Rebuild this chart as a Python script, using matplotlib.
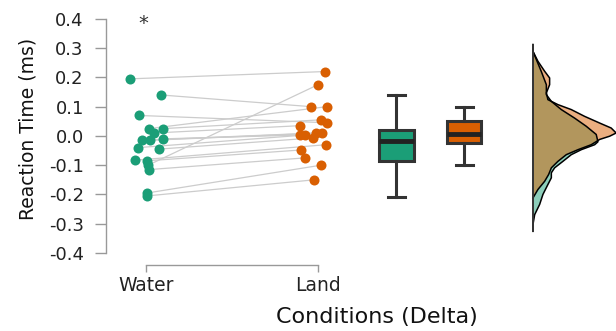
import numpy as np
import matplotlib
matplotlib.use("Agg")
import matplotlib.pyplot as plt

# ------------------------------
# Data
# ------------------------------
categories = ["Water", "Land"]
water = [0.195, 0.14, 0.07, 0.025, -0.10, 0.025, 0.01, -0.015, -0.01, -0.015,
         -0.04, -0.045, -0.083, -0.085, -0.115, -0.195, -0.205]
land = [0.22, 0.10, 0.045, 0.10, 0.175, 0.055, 0.035, 0.01, 0.003, 0.01,
        0.003, -0.007, -0.03, -0.048, -0.075, -0.10, -0.15]
water_jit = [-0.093, 0.087, -0.041, 0.017, 0.012, 0.099, 0.047, 0.023, 0.099, -0.023,
             -0.047, 0.076, -0.064, 0.006, 0.017, 0.006, 0.006]
land_jit = [0.041, -0.041, 0.052, 0.052, 0.0, 0.017, -0.105, 0.023, -0.105, -0.012,
            -0.076, -0.029, 0.047, -0.099, -0.076, 0.017, -0.023]

# box summaries: whislo, q1, median, q3, whishi
water_box = [-0.208, -0.085, -0.017, 0.02, 0.14]
land_box = [-0.10, -0.025, 0.007, 0.05, 0.10]

# half-violin density profiles (value, relative width)
water_kde_y = [0.312, 0.289, 0.221, 0.175, 0.141, 0.118, 0.090, 0.061, 0.033, 0.005,
               -0.020, -0.030, -0.047, -0.064, -0.087, -0.109, -0.126, -0.143, -0.166,
               -0.200, -0.234, -0.269, -0.303, -0.326]
water_kde_w = [0.0, 0.0, 0.048, 0.078, 0.078, 0.107, 0.165, 0.242, 0.310, 0.368,
               0.378, 0.359, 0.281, 0.223, 0.174, 0.126, 0.107, 0.107, 0.087,
               0.058, 0.039, 0.010, 0.0, 0.0]
land_kde_y = [0.312, 0.289, 0.255, 0.221, 0.198, 0.175, 0.147, 0.124, 0.107, 0.090,
              0.067, 0.044, 0.027, 0.010, -0.001, -0.012, -0.030, -0.047, -0.064,
              -0.087, -0.109, -0.132, -0.155, -0.183, -0.212]
land_kde_w = [0.0, 0.0, 0.029, 0.068, 0.097, 0.097, 0.078, 0.087, 0.145, 0.223,
              0.300, 0.388, 0.455, 0.484, 0.446, 0.388, 0.339, 0.262, 0.194,
              0.145, 0.107, 0.091, 0.068, 0.029, 0.0]

yticks = [-0.4, -0.3, -0.2, -0.1, 0.0, 0.1, 0.2, 0.3, 0.4]

green = "#1b9e77"
orange = "#d95f02"

plt.rcParams['font.family'] = ['DejaVu Sans']

fig = plt.figure(figsize=(6.16, 3.31), dpi=100)
ax = fig.add_axes([106/616, 66/331, 510/616, 252/331])

# ------------------------------
# Paired lines + points
# ------------------------------
wx = 0 + np.array(water_jit)
lx = 1 + np.array(land_jit)
for i in range(len(water)):
    ax.plot([wx[i], lx[i]], [water[i], land[i]], color="#cccccc", lw=0.9, zorder=1)
ax.scatter(wx, water, s=52, color=green, zorder=3, linewidths=0)
ax.scatter(lx, land, s=52, color=orange, zorder=3, linewidths=0)

ax.text(-0.015, 0.385, "*", ha="center", va="center", fontsize=14, color="#333333")

# ------------------------------
# Box plots
# ------------------------------
stats = []
for b in [water_box, land_box]:
    stats.append(dict(whislo=b[0], q1=b[1], med=b[2], q3=b[3], whishi=b[4], fliers=[]))
bp = ax.bxp(stats, positions=[1.456, 1.85], widths=0.2, patch_artist=True,
            showfliers=False, capwidths=0.1,
            boxprops=dict(edgecolor="#333333", linewidth=2.2),
            whiskerprops=dict(color="#333333", linewidth=2.2),
            capprops=dict(color="#333333", linewidth=2.2),
            medianprops=dict(color="#222222", linewidth=3.5))
for patch, c in zip(bp['boxes'], [green, orange]):
    patch.set_facecolor(c)

# ------------------------------
# Half violins
# ------------------------------
base = 2.25
ax.fill_betweenx(water_kde_y, base, base + np.array(water_kde_w), facecolor=green,
                 alpha=0.5, edgecolor="none", zorder=2)
ax.fill_betweenx(land_kde_y, base, base + np.array(land_kde_w), facecolor=orange,
                 alpha=0.5, edgecolor="none", zorder=2)
ax.plot(base + np.array(water_kde_w), water_kde_y, color="black", lw=1.1, zorder=2)
ax.plot(base + np.array(land_kde_w), land_kde_y, color="black", lw=1.1, zorder=2)
ax.plot([base, base], [water_kde_y[0], water_kde_y[-1]], color="#333333", lw=1.4, zorder=2)

# ------------------------------
# Axes styling
# ------------------------------
ax.set_xlim(-0.233, 2.733)
ax.set_ylim(-0.441, 0.42)
ax.set_xticks([0, 1])
ax.set_xticklabels(categories, fontsize=13.5, color="#222222")
ax.set_yticks(yticks)
ax.set_yticklabels([f"{t:.1f}" for t in yticks], fontsize=13, color="#222222")
for s in ["top", "right"]:
    ax.spines[s].set_visible(False)
ax.spines["left"].set_bounds(-0.4, 0.4)
ax.spines["bottom"].set_bounds(0, 1)
for s in ["left", "bottom"]:
    ax.spines[s].set_color("#999999")
    ax.spines[s].set_linewidth(1.0)
ax.tick_params(axis="y", length=8, width=1.0, color="#999999", pad=8)
ax.tick_params(axis="x", length=5, width=1.0, color="#999999", pad=3)
ax.set_ylabel("Reaction Time (ms)", fontsize=13.5, color="#111111")
ax.yaxis.set_label_coords(-0.135, 0.54)
ax.set_xlabel("Conditions (Delta)", fontsize=16, color="#111111")
ax.xaxis.set_label_coords(0.531, -0.165)
ax.patch.set_visible(False)

plt.savefig("out.png", dpi=100)
